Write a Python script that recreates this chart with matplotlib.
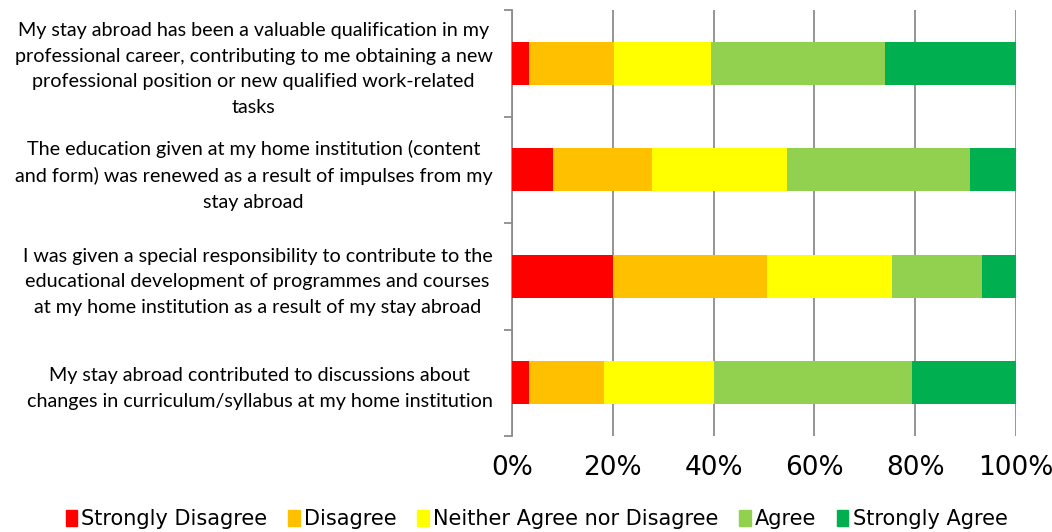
import matplotlib.pyplot as plt
import numpy as np
from matplotlib.patches import Patch

# statements, top to bottom
statements = [
    "My stay abroad has been a valuable qualification in my\nprofessional career, contributing to me obtaining a new\nprofessional position or new qualified work-related\ntasks",
    "The education given at my home institution (content\nand form) was renewed as a result of impulses from my\nstay abroad",
    "I was given a special responsibility to contribute to the\neducational development of programmes and courses\nat my home institution as a result of my stay abroad",
    "My stay abroad contributed to discussions about\nchanges in curriculum/syllabus at my home institution",
]
levels = ["Strongly Disagree", "Disagree", "Neither Agree nor Disagree", "Agree", "Strongly Agree"]
colors = ["#ff0000", "#ffc000", "#ffff00", "#92d050", "#00b050"]

# shares in %, one list per level, statements in the order above
strongly_disagree = [3.3, 8.1, 20.1, 3.3]
disagree = [16.9, 19.7, 30.4, 15.0]
neither = [19.2, 26.8, 24.8, 21.8]
agree = [34.7, 36.2, 18.0, 39.3]
strongly_agree = [25.9, 9.2, 6.7, 20.6]
series = [strongly_disagree, disagree, neither, agree, strongly_agree]

fig = plt.figure(figsize=(10.52, 5.32), dpi=100)
ax = fig.add_axes([512 / 1052, 1 - 436 / 532, 504 / 1052, 426 / 532])

y = np.arange(len(statements))[::-1]
left = np.zeros(len(statements))
for vals, c in zip(series, colors):
    ax.barh(y, vals, left=left, height=0.4, color=c, zorder=3)
    left += np.array(vals)

ax.set_xlim(0, 100)
ax.set_ylim(-0.5, len(statements) - 0.5)
ax.set_xticks(np.arange(0, 101, 20))
ax.set_xticklabels([f"{v}%" for v in range(0, 101, 20)], fontsize=19)
ax.tick_params(axis="x", length=0, pad=14)
ax.xaxis.grid(True, color="#8c8c8c", linewidth=1.3, zorder=0)

ax.set_yticks(y)
ax.set_yticklabels(statements, fontsize=14.2, family="Lato", multialignment="center",
                   linespacing=1.6)
ax.tick_params(axis="y", length=0, pad=14)
ax.set_yticks(np.arange(-0.5, len(statements), 1), minor=True)
ax.tick_params(axis="y", which="minor", length=6, color="#8c8c8c", width=1.3)

for s in ["top", "right", "bottom"]:
    ax.spines[s].set_visible(False)
ax.spines["left"].set_color("#8c8c8c")
ax.spines["left"].set_linewidth(1.3)

handles = [Patch(color=c, label=l) for c, l in zip(colors, levels)]
fig.legend(handles=handles, loc="lower center", bbox_to_anchor=(0.51, -0.03), ncol=5,
           frameon=False, fontsize=15, handlelength=0.55, handleheight=0.8,
           handletextpad=0.2, columnspacing=1.0)

fig.savefig("out.png", dpi=100)
